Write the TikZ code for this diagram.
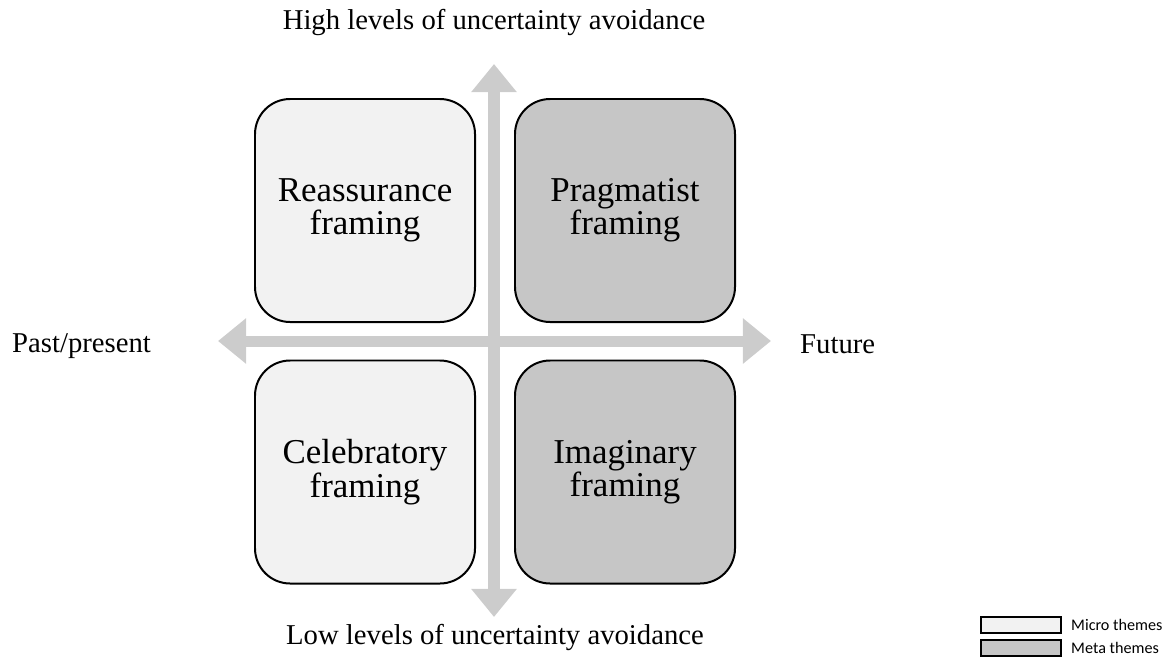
\documentclass[tikz,border=0pt]{standalone}
\usepackage{fontspec}
\setmainfont{Liberation Serif}
\newfontfamily\legendfont{Carlito}
\usetikzlibrary{arrows.meta}
\definecolor{axisgray}{HTML}{CCCCCC}
\definecolor{microfill}{HTML}{F2F2F2}
\definecolor{metafill}{HTML}{C6C6C6}
\tikzset{
  frame/.style={draw,line width=1.7pt,rounded corners=30pt,minimum width=6.6cm,minimum height=6.69cm,anchor=center,align=center,font=\fontsize{29.8}{28.5}\selectfont},
  micro/.style={frame,fill=microfill},
  meta/.style={frame,fill=metafill},
  axis/.style={line width=9.4pt,axisgray,{Triangle[width=37.4pt,length=24pt]}-{Triangle[width=37.4pt,length=24pt]}},
  axislabel/.style={font=\fontsize{24.5}{28}\selectfont,inner sep=0pt},
  keybox/.style={draw,line width=1.2pt,minimum width=2.4cm,minimum height=0.48cm,anchor=center,inner sep=0pt},
  keytext/.style={anchor=west,inner sep=0pt,font=\legendfont\fontsize{13.8}{16}\selectfont}
}
\begin{document}
\begin{tikzpicture}[x=0.03cm,y=-0.03cm]
        \useasboundingbox (0,0) rectangle (1175,666);
        %% axes
        \coordinate (top) at (494,64);
        \coordinate (bottom) at (494,617);
        \coordinate (left) at (218,341);
        \coordinate (right) at (771,341);
        \draw[axis] (bottom) -- (top);
        \draw[axis] (left) -- (right);
        %% quadrants top row
        \node[micro] (reassurance) at (365,210.5) {Reassurance\\framing};
        \node[meta] (pragmatist) at (625,210.5) {Pragmatist\\framing};
        %% quadrants bottom row
        \node[micro] (celebratory) at (365,472) {Celebratory\\framing};
        \node[meta] (imaginary) at (625,472) {Imaginary\\framing};
        %% axis labels
        \node[axislabel] (high) at (494,22) {High levels of uncertainty avoidance};
        \node[axislabel] (low) at (495,637) {Low levels of uncertainty avoidance};
        \node[axislabel,anchor=west] (past) at (12,346) {Past/present};
        \node[axislabel,anchor=west] (future) at (800,344) {Future};
        %% legend
        \node[keybox,fill=microfill] (microkey) at (1021,625) {};
        \node[keybox,fill=metafill] (metakey) at (1021,648) {};
        \node[keytext] (microtext) at (1071,625) {Micro themes};
        \node[keytext] (metatext) at (1071,648) {Meta themes};
\end{tikzpicture}
\end{document}
